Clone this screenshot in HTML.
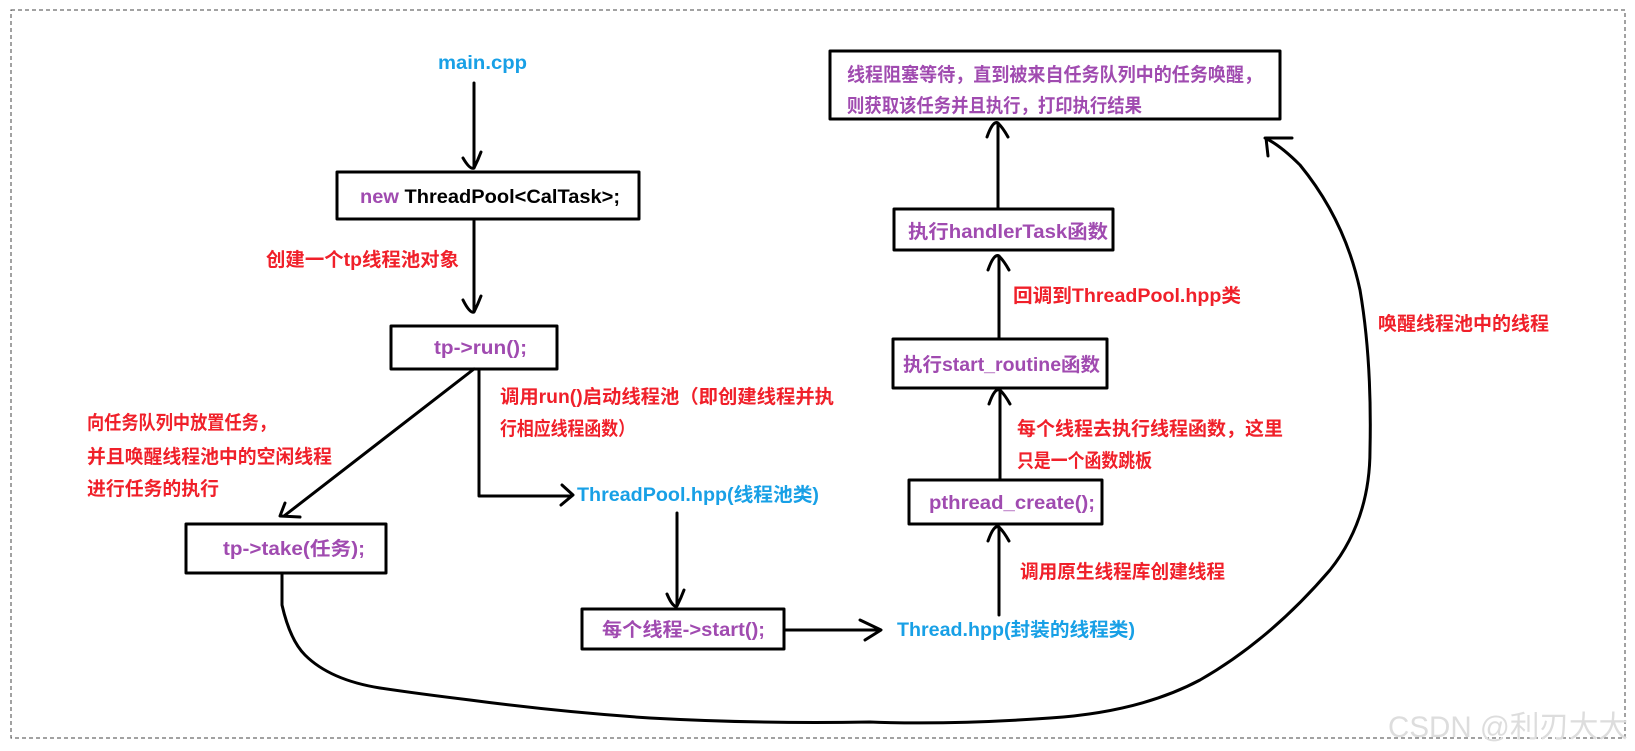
<!DOCTYPE html>
<html><head><meta charset="utf-8"><style>
body{margin:0;background:#fff;}
svg{display:block;}
text{font-family:"Liberation Sans","Noto Sans CJK SC",sans-serif;font-weight:bold;font-size:19px;}
.p{fill:#a04bb0}.b{fill:#18a0e6}.r{fill:#f0202a}.k{fill:#000}
</style></head><body>
<svg width="1635" height="751" viewBox="0 0 1635 751">
<rect x="11" y="10" width="1614" height="728" fill="none" stroke="#444" stroke-width="1" stroke-dasharray="4,3"/>
<g fill="none" stroke="#000" stroke-width="3" stroke-linecap="round" stroke-linejoin="round">
<rect x="337" y="172" width="302" height="47"/>
<rect x="391" y="326" width="166" height="43"/>
<rect x="186" y="524" width="200" height="49"/>
<rect x="582" y="609" width="202" height="40"/>
<rect x="909" y="480" width="193" height="44"/>
<rect x="893" y="339" width="214" height="49"/>
<rect x="894" y="209" width="219" height="41"/>
<rect x="830" y="51" width="450" height="68"/>
<path d="M474 83 V168 M463 158 Q470 170 474 168 Q478 160 481 152"/>
<path d="M474 221 V311 M463 300 Q470 314 474 312 Q478 304 481 296"/>
<path d="M474 369 L284 516 M285 503 L280 516 L300 517"/>
<path d="M479 369 V496 H571 M562 485 L573 495 L561 505"/>
<path d="M677 513 V605 M667 594 Q673 608 677 606 Q681 598 684 590"/>
<path d="M784 630 H880 M860 620 L881 630 L865 640"/>
<path d="M999 615 V527 M988 541 Q994 524 999 527 Q1004 532 1009 541"/>
<path d="M1000 480 V390 M989 404 Q995 387 1000 390 Q1005 395 1010 404"/>
<path d="M999 339 V256 M988 270 Q994 253 999 256 Q1004 261 1009 270"/>
<path d="M998 209 V123 M987 137 Q993 120 998 123 Q1003 128 1008 137"/>
<path d="M282 573 V605 Q290 640 305 655 Q330 680 380 688 Q420 694 470 700 Q560 712 650 718 Q760 724 870 722 Q950 725 1050 718 Q1140 712 1200 680 Q1270 640 1330 570 Q1370 520 1370 450 Q1372 360 1360 290 Q1345 220 1300 165 Q1280 145 1265 138 M1268 156 L1266 138 L1292 138"/>
</g>
<text x="438" y="69" class="b" textLength="89" lengthAdjust="spacingAndGlyphs">main.cpp</text>
<text x="360" y="203" textLength="260" lengthAdjust="spacingAndGlyphs"><tspan class="p">new</tspan><tspan class="k"> ThreadPool&lt;CalTask&gt;;</tspan></text>
<text x="266" y="266" class="r" textLength="193" lengthAdjust="spacingAndGlyphs">创建一个tp线程池对象</text>
<text x="434" y="354" class="p" textLength="93" lengthAdjust="spacingAndGlyphs">tp-&gt;run();</text>
<text x="500" y="403" class="r" textLength="334" lengthAdjust="spacingAndGlyphs">调用run()启动线程池（即创建线程并执</text>
<text x="500" y="435" class="r" textLength="135" lengthAdjust="spacingAndGlyphs">行相应线程函数）</text>
<text x="87" y="429" class="r" textLength="189" lengthAdjust="spacingAndGlyphs">向任务队列中放置任务，</text>
<text x="87" y="463" class="r" textLength="245" lengthAdjust="spacingAndGlyphs">并且唤醒线程池中的空闲线程</text>
<text x="87" y="495" class="r" textLength="132" lengthAdjust="spacingAndGlyphs">进行任务的执行</text>
<text x="223" y="555" class="p" textLength="142" lengthAdjust="spacingAndGlyphs">tp-&gt;take(任务);</text>
<text x="577" y="501" class="b" textLength="242" lengthAdjust="spacingAndGlyphs">ThreadPool.hpp(线程池类)</text>
<text x="602" y="636" class="p" textLength="163" lengthAdjust="spacingAndGlyphs">每个线程-&gt;start();</text>
<text x="897" y="636" class="b" textLength="238" lengthAdjust="spacingAndGlyphs">Thread.hpp(封装的线程类)</text>
<text x="1020" y="578" class="r" textLength="205" lengthAdjust="spacingAndGlyphs">调用原生线程库创建线程</text>
<text x="929" y="509" class="p" textLength="166" lengthAdjust="spacingAndGlyphs">pthread_create();</text>
<text x="1017" y="435" class="r" textLength="266" lengthAdjust="spacingAndGlyphs">每个线程去执行线程函数，这里</text>
<text x="1017" y="467" class="r" textLength="135" lengthAdjust="spacingAndGlyphs">只是一个函数跳板</text>
<text x="903" y="371" class="p" textLength="197" lengthAdjust="spacingAndGlyphs">执行start_routine函数</text>
<text x="1013" y="302" class="r" textLength="228" lengthAdjust="spacingAndGlyphs">回调到ThreadPool.hpp类</text>
<text x="908" y="238" class="p" textLength="200" lengthAdjust="spacingAndGlyphs">执行handlerTask函数</text>
<text x="847" y="81" class="p" textLength="415" lengthAdjust="spacingAndGlyphs">线程阻塞等待，直到被来自任务队列中的任务唤醒，</text>
<text x="847" y="112" class="p" textLength="295" lengthAdjust="spacingAndGlyphs">则获取该任务并且执行，打印执行结果</text>
<text x="1378" y="330" class="r" textLength="171" lengthAdjust="spacingAndGlyphs">唤醒线程池中的线程</text>
<text x="1388" y="737" style="font-weight:normal;font-size:30px;fill:#ddd" textLength="240" lengthAdjust="spacingAndGlyphs">CSDN @利刃大大</text>
</svg>
</body></html>
